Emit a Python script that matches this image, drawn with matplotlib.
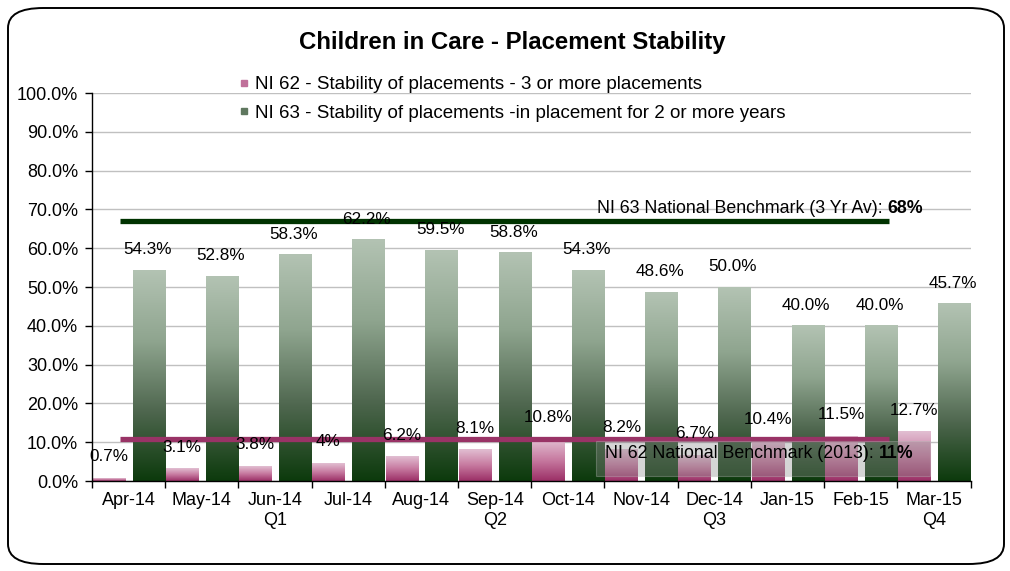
import numpy as np
import matplotlib
matplotlib.use("Agg")
import matplotlib.pyplot as plt
from matplotlib.colors import LinearSegmentedColormap
from matplotlib.patches import FancyBboxPatch, Rectangle
from matplotlib.lines import Line2D

plt.rcParams['font.family'] = ['Liberation Sans', 'DejaVu Sans']

# data
months = ['Apr-14', 'May-14', 'Jun-14\nQ1', 'Jul-14', 'Aug-14', 'Sep-14\nQ2',
          'Oct-14', 'Nov-14', 'Dec-14\nQ3', 'Jan-15', 'Feb-15', 'Mar-15\nQ4']
ni62 = [0.7, 3.1, 3.8, 4.6, 6.2, 8.1, 10.8, 8.2, 6.7, 10.4, 11.5, 12.7]
ni62_labels = ['0.7%', '3.1%', '3.8%', '4%', '6.2%', '8.1%', '10.8%', '8.2%',
               '6.7%', '10.4%', '11.5%', '12.7%']
ni63 = [54.3, 52.8, 58.3, 62.2, 59.5, 58.8, 54.3, 48.6, 50.0, 40.0, 40.0, 45.7]
ni62_bench = 11
ni63_bench = 67

pink_cmap = LinearSegmentedColormap.from_list('pk', ['#9b2f66', '#c77aa0', '#e2bfd2'])
green_cmap = LinearSegmentedColormap.from_list('gr', ['#0c3a0c', '#4f674f', '#8fa58f', '#b3c3b3'])
grad = np.linspace(0, 1, 256).reshape(-1, 1)

fig = plt.figure(figsize=(10.10, 5.71), dpi=100)
ax = fig.add_axes([0.091, 0.1576, 0.870, 0.6795])

x = np.arange(len(months))
w = 0.44


def gradient_bar(xc, h, cmap):
    ax.imshow(grad, cmap=cmap, origin='lower', aspect='auto',
              extent=[xc - w / 2, xc + w / 2, 0, h], zorder=2)


for i in x:
    gradient_bar(i - 0.27, ni62[i], pink_cmap)
    gradient_bar(i + 0.275, ni63[i], green_cmap)
    ax.annotate(ni62_labels[i], (i - 0.27, ni62[i]), xytext=(0, 14),
                textcoords='offset pixels', ha='center', va='bottom',
                fontsize=12.3, zorder=5)
    ax.annotate(f'{ni63[i]:.1f}%', (i + 0.255, ni63[i]), xytext=(0, 13),
                textcoords='offset pixels', ha='center', va='bottom',
                fontsize=12.3, zorder=5)

# benchmarks
ax.plot([-0.12, 10.39], [ni63_bench, ni63_bench], color='#003300', lw=3.8,
        solid_capstyle='butt', zorder=4)
ax.plot([-0.12, 10.39], [10.8, 10.8], color='#993366', lw=3.8,
        solid_capstyle='butt', zorder=4)

ax.text(10.36, 70.2, 'NI 63 National Benchmark (3 Yr Av): ', ha='right',
        va='center', fontsize=12.8, zorder=6)
ax.text(10.36, 70.2, f'{ni63_bench + 1}%', ha='left', va='center',
        fontsize=12.8, fontweight='bold', zorder=6)

ax.add_patch(Rectangle((6.39, 1.3), 4.55, 9.0, facecolor='#888888', alpha=0.35,
                       edgecolor='#bbbbbb', lw=0.8, zorder=5))
ax.text(10.25, 7.2, 'NI 62 National Benchmark (2013): ', ha='right',
        va='center', fontsize=12.8, zorder=6)
ax.text(10.25, 7.2, f'{ni62_bench}%', ha='left', va='center',
        fontsize=12.8, fontweight='bold', zorder=6)

# axes
ax.set_xlim(-0.5, len(months) - 0.5)
ax.set_ylim(0, 100)
ax.set_yticks(np.arange(0, 101, 10))
ax.set_yticklabels([f'{v:.1f}%' for v in range(0, 101, 10)], fontsize=13)
ax.set_xticks(x)
ax.set_xticklabels(months, fontsize=13)
ax.set_xticks(np.arange(-0.5, len(months), 1), minor=True)
ax.tick_params(axis='x', which='major', length=0, pad=8)
ax.tick_params(axis='x', which='minor', length=5, direction='out', width=1)
ax.tick_params(axis='y', length=5, direction='out', width=1, pad=5)
ax.yaxis.grid(True, color='#c0c0c0', lw=1)
ax.set_axisbelow(True)
for s in ['top', 'right']:
    ax.spines[s].set_visible(False)
for s in ['left', 'bottom']:
    ax.spines[s].set_linewidth(1)

fig.text(0.507, 1 - 43 / 571, 'Children in Care - Placement Stability',
         ha='center', va='center', fontsize=17.3, fontweight='bold')

handles = [Line2D([], [], ls='', marker='s', markersize=5, color='#c0709a'),
           Line2D([], [], ls='', marker='s', markersize=5, color='#5f775f')]
fig.legend(handles, ['NI 62 - Stability of placements - 3 or more placements',
                     'NI 63 - Stability of placements -in placement for 2 or more years'],
           loc='upper left', bbox_to_anchor=(238 / 1010, 1 - 76 / 571),
           frameon=False, fontsize=13.5, handlelength=0.6, handletextpad=0.3,
           labelspacing=0.62, borderaxespad=0, borderpad=0)

fig.patches.append(FancyBboxPatch((8 / 1010, 7 / 571), 996 / 1010, 556 / 571,
                                  boxstyle='round,pad=0,rounding_size=0.035',
                                  transform=fig.transFigure, facecolor='none',
                                  edgecolor='black', lw=1.4))

fig.savefig('out.png', dpi=100)
